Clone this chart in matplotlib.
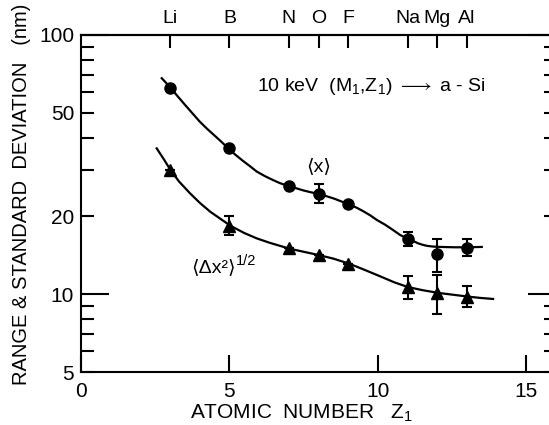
import matplotlib
matplotlib.use("Agg")
import matplotlib.pyplot as plt
from matplotlib.ticker import FixedLocator, FixedFormatter, NullFormatter

plt.rcParams["font.family"] = ["Liberation Sans", "DejaVu Sans"]
plt.rcParams["mathtext.fontset"] = "custom"
plt.rcParams["mathtext.rm"] = "Liberation Sans"
plt.rcParams["mathtext.it"] = "Liberation Sans"
plt.rcParams["mathtext.bf"] = "Liberation Sans"

# atomic numbers of the implanted ions and their symbols (top axis)
Z1       = [3, 5, 7, 8, 9, 11, 12, 13]
ELEMENTS = ["Li", "B", "N", "O", "F", "Na", "Mg", "Al"]

# mean range <x> (nm) with error bar limits
RANGE    = [62.6, 36.7, 26.2, 24.3, 22.2, 16.3, 14.3, 15.1]
RANGE_LO = [62.6, 36.7, 26.2, 22.5, 22.2, 15.3, 12.2, 14.0]
RANGE_HI = [62.6, 36.7, 26.2, 26.5, 22.2, 17.3, 16.3, 16.3]

# standard deviation <dx^2>^1/2 (nm) with error bar limits
STD    = [30.1, 18.3, 15.0, 14.2, 13.1, 10.6, 10.1, 9.77]
STD_LO = [30.1, 16.9, 15.0, 14.2, 13.1, 9.6, 8.35, 8.9]
STD_HI = [30.1, 20.0, 15.0, 14.2, 13.1, 11.7, 11.8, 10.7]

# hand drawn guide curves
RANGE_CURVE_X = [2.72, 3.0, 3.25, 3.5, 3.75, 4.0, 4.25, 4.5, 4.75, 4.96,
                 5.2, 5.45, 5.7, 5.92, 6.2, 6.45, 6.7, 6.99, 7.25, 7.5,
                 7.75, 8.03, 8.3, 8.55, 8.8, 9.07, 9.3, 9.5, 9.75, 9.97,
                 10.25, 10.5, 10.75, 11.03, 11.2, 11.35, 11.5, 11.65,
                 11.85, 12.1, 12.6, 13.0, 13.5]
RANGE_CURVE_Y = [68.1, 62.9, 58.1, 53.8, 49.9, 46.3, 43.4, 40.9, 38.5, 36.5,
                 34.5, 32.7, 31.1, 29.7, 28.5, 27.6, 26.8, 26.1, 25.6, 25.1,
                 24.7, 24.3, 23.8, 23.3, 22.7, 22.1, 21.5, 20.9, 20.1, 19.3,
                 18.5, 17.7, 16.9, 16.3, 16.0, 15.7, 15.5, 15.35,
                 15.25, 15.2, 15.15, 15.15, 15.2]
STD_CURVE_X = [2.55, 2.8, 3.0, 3.3, 3.67, 4.0, 4.35, 4.7, 5.05, 5.5, 5.92,
               6.37, 6.7, 6.99, 7.45, 7.94, 8.5, 9.03, 9.55, 10.08, 10.55,
               11.0, 11.5, 12.04, 12.55, 13.05, 13.45, 13.88]
STD_CURVE_Y = [36.5, 33.0, 30.3, 27.2, 24.5, 22.5, 20.8, 19.5, 18.3, 17.2,
               16.4, 15.75, 15.35, 15.0, 14.6, 14.2, 13.7, 13.1, 12.4, 11.7,
               11.1, 10.65, 10.35, 10.1, 9.93, 9.77, 9.66, 9.57]

fig = plt.figure(figsize=(5.49, 4.25), dpi=100)
ax = fig.add_axes([81 / 549, 53 / 425, 475 / 549, 337 / 425])

ax.plot(RANGE_CURVE_X, RANGE_CURVE_Y, color="black", lw=1.6)
ax.plot(STD_CURVE_X, STD_CURVE_Y, color="black", lw=1.6)

yerr_r = [[r - lo for r, lo in zip(RANGE, RANGE_LO)],
          [hi - r for r, hi in zip(RANGE, RANGE_HI)]]
yerr_s = [[s - lo for s, lo in zip(STD, STD_LO)],
          [hi - s for s, hi in zip(STD, STD_HI)]]
ax.errorbar(Z1, RANGE, yerr=yerr_r, fmt="o", color="black", ms=8,
            capsize=3.5, capthick=1.5, elinewidth=1.5)
ax.errorbar(Z1, STD, yerr=yerr_s, fmt="^", color="black", ms=8.5,
            capsize=3.5, capthick=1.5, elinewidth=1.5)

ax.set_yscale("log")
ax.set_xlim(0, 16)
ax.set_ylim(5, 100)

for s in ax.spines.values():
    s.set_linewidth(1.5)

# y ticks: decades long, everything else short
ax.yaxis.set_major_locator(FixedLocator([10, 100]))
ax.yaxis.set_major_formatter(FixedFormatter(["10", "100"]))
ax.yaxis.set_minor_locator(FixedLocator([5, 6, 7, 8, 9, 20, 30, 40, 50,
                                         60, 70, 80, 90]))
ax.yaxis.set_minor_formatter(FixedFormatter(["5", "", "", "", "", "20", "",
                                             "", "50", "", "", "", ""]))
ax.tick_params(axis="y", which="major", direction="in", length=20,
               width=1.5, labelsize=15, pad=5, right=True)
ax.tick_params(axis="y", which="minor", direction="in", length=9,
               width=1.5, labelsize=15, pad=5, right=True)

ax.set_xticks([0, 5, 10, 15])
ax.xaxis.set_minor_formatter(NullFormatter())
ax.tick_params(axis="x", which="major", direction="in", length=12,
               width=1.5, labelsize=15, pad=7, top=False)
ax.tick_params(axis="x", which="minor", bottom=False, top=False)

top = ax.secondary_xaxis("top")
top.set_xticks(Z1)
top.set_xticklabels(ELEMENTS)
top.tick_params(direction="in", length=9, width=1.5, labelsize=14, pad=6)
top.spines["top"].set_linewidth(1.5)

ax.text(5.92, 63, r"10 keV  (M$_1$,Z$_1$) $\longrightarrow$ a - Si",
        fontsize=14, ha="left", va="center")
ax.text(8.0, 31, "\u27e8x\u27e9", fontsize=14, ha="center", va="center")
# <dx^2> in plain text, the 1/2 exponent hung off its top right corner
sd = ax.text(4.45, 12.6, "\u27e8\u0394x\u00b2\u27e9", fontsize=14,
             ha="center", va="center")
ax.annotate("1/2", xy=(1.0, 1.0), xycoords=sd, xytext=(0.5, -1),
            textcoords="offset points", fontsize=10.5, ha="left",
            va="center")

fig.text(301 / 549, 1 - 413 / 425, r"ATOMIC  NUMBER   Z$_1$",
         fontsize=15, ha="center", va="center")
fig.text(22 / 549, 1 - 194 / 425,
         "RANGE & STANDARD  DEVIATION   (nm)",
         fontsize=14.5, ha="center", va="center", rotation=90)

fig.savefig("out.png", dpi=100)
